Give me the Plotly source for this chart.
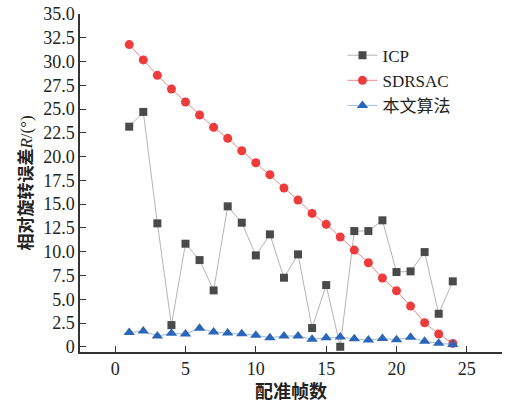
import plotly.graph_objects as go

# registration frame index
frames = list(range(1, 25))

# relative rotation error R (degrees) for each method
icp = [23.15, 24.7, 12.98, 2.28, 10.84, 9.12, 5.93, 14.77, 13.05, 9.61,
       11.82, 7.26, 9.72, 1.97, 6.49, 0.0, 12.17, 12.17, 13.3, 7.86,
       7.93, 9.96, 3.47, 6.88]
sdrsac = [31.78, 30.17, 28.55, 27.11, 25.74, 24.38, 23.08, 21.92, 20.62, 19.36,
          18.1, 16.7, 15.43, 14.03, 12.88, 11.54, 10.17, 8.84, 7.23, 5.89,
          4.28, 2.53, 1.34, 0.35]
ours = [1.5, 1.65, 1.13, 1.41, 1.34, 1.94, 1.55, 1.44, 1.37, 1.22,
        0.95, 1.13, 1.13, 0.78, 0.95, 1.02, 0.84, 0.7, 0.88, 0.74,
        0.99, 0.57, 0.36, 0.25]

y_tickvals = [0, 2.5, 5, 7.5, 10, 12.5, 15, 17.5, 20, 22.5, 25, 27.5, 30, 32.5, 35]
y_ticktext = ["0", "2.5", "5.0", "7.5", "10.0", "12.5", "15.0", "17.5", "20.0",
              "22.5", "25.0", "27.5", "30.0", "32.5", "35.0"]
x_tickvals = [0, 5, 10, 15, 20, 25]

FONT = "Liberation Serif, Times New Roman, Noto Sans CJK SC, serif"

fig = go.Figure()
fig.add_trace(go.Scatter(
    x=frames, y=icp, name="ICP", mode="lines+markers",
    line=dict(color="#b4b4b4", width=1),
    marker=dict(symbol="square", size=8, color="#4a4a4a"),
))
fig.add_trace(go.Scatter(
    x=frames, y=sdrsac, name="SDRSAC", mode="lines+markers",
    line=dict(color="#f08a8a", width=1),
    marker=dict(symbol="circle", size=9, color="#ee3b3b"),
))
fig.add_trace(go.Scatter(
    x=frames, y=ours, name="本文算法", mode="lines+markers",
    line=dict(color="#9dbbe6", width=1),
    marker=dict(symbol="triangle-up", size=10, color="#2b66b8"),
))

fig.update_layout(
    width=511, height=402,
    margin=dict(l=80, r=9, t=14, b=50),
    paper_bgcolor="white", plot_bgcolor="white",
    font=dict(family=FONT, size=18, color="#222222"),
    showlegend=True,
    legend=dict(
        x=0.622, y=0.93, xanchor="left", yanchor="top",
        bgcolor="rgba(0,0,0,0)", borderwidth=0,
        font=dict(family=FONT, size=17, color="#222222"),
        tracegroupgap=0, itemwidth=30,
    ),
)
fig.update_xaxes(
    range=[-2.5, 27.5], tickvals=x_tickvals, automargin=False,
    showline=True, linecolor="#333333", linewidth=1.5,
    ticks="inside", ticklen=6, tickwidth=1.2, tickcolor="#333333",
    showgrid=False, zeroline=False,
    tickfont=dict(family=FONT, size=18),
    title=dict(text="<b>配准帧数</b>", font=dict(family=FONT, size=18), standoff=8),
)
fig.update_yaxes(
    range=[-0.55, 35], tickvals=y_tickvals, ticktext=y_ticktext, automargin=False,
    showline=True, linecolor="#333333", linewidth=1.5,
    ticks="inside", ticklen=6, tickwidth=1.2, tickcolor="#333333",
    showgrid=False, zeroline=False,
    tickfont=dict(family=FONT, size=18),
    title=dict(text="<b>相对旋转误差</b><i>R</i>/(°)", font=dict(family=FONT, size=17), standoff=6),
)

fig.write_html("out.html")
